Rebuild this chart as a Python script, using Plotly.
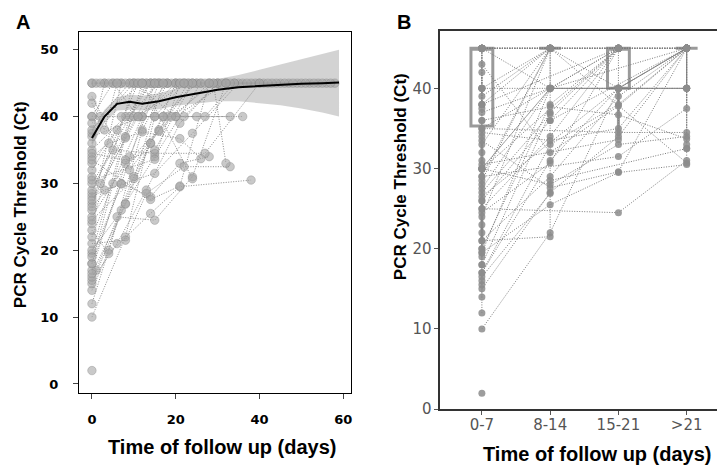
""" Ct follow-up plots: A by day, B by day bins """
import pandas as pd
import plotly.graph_objects as go

# one inner list per patient (day of sample, Ct value)
follow_days = [
    [0], [0, 8, 15, 22], [0, 7, 14, 20], [0, 4, 12, 18], [0, 8, 15, 26],
    [0, 6, 13, 21, 30], [0, 1, 10, 17, 25], [0, 8, 16, 24], [0, 7, 14, 21, 28], [0, 8, 15],
    [0, 9, 14], [0, 6, 15, 24, 32], [0, 8, 13, 22, 33], [0, 5, 12, 20], [0, 4, 14, 21, 38],
    [0, 10], [0, 9, 16], [0, 7], [0, 8, 12], [0, 3, 15, 24, 35],
    [0, 11], [0, 13], [0, 5, 15, 27, 40], [0, 2, 10, 18, 25, 36], [0, 6, 16],
    [0, 14], [0, 4, 12, 21, 26], [0, 8, 15, 22, 30], [0, 2, 9], [0, 12, 20, 27, 34],
    [0, 3], [0, 10, 20, 32], [0, 7, 17, 33], [0, 5, 11, 18], [0, 9, 16, 28],
    [0, 3, 7, 10, 15, 20, 25, 30, 36, 41, 45, 49, 54, 58],
    [0, 5, 9, 14, 19, 24, 28, 34, 39, 44, 47, 52, 56],
    [1, 6, 11, 16, 21, 26, 31, 38, 43, 50, 55],
    [2, 8, 13, 18, 23, 29, 33, 40, 46, 51, 57],
    [4, 12, 17, 22, 27, 32, 37, 42, 48, 53],
    [0, 19, 29, 32], [0, 8, 14, 23], [0, 7, 15], [0, 10, 17], [0, 15, 21],
    [0, 11, 22], [0, 8, 15, 24], [0, 14, 21, 28], [0, 12, 24], [0, 3, 6],
]
follow_ct = [
    [2], [10, 22, 40, 45], [12, 26, 36, 45], [14, 20, 38, 45], [15, 27, 34, 45],
    [15.5, 21, 29, 39, 45], [16, 17, 31, 40, 45], [17, 33, 38, 45], [18, 30, 28, 33, 34], [18, 37, 45],
    [19.5, 40, 45], [20, 25, 24.5, 31, 45], [21, 21.5, 28.5, 32.5, 32.5], [22, 30, 40, 45], [23, 19.5, 25.5, 29.5, 30.5],
    [24, 45], [25, 34, 45], [26, 45], [27, 36.8, 45], [28, 29, 31.5, 37.5, 45],
    [28.5, 45], [29, 45], [30, 35, 34.5, 34.5, 45], [31, 30, 40, 40, 40, 40], [32, 38, 45],
    [33, 45], [34, 36, 37.7, 36.7, 33.7], [35, 40, 40, 40, 45], [36, 40, 45], [37, 40, 40, 40, 45],
    [37.5, 45], [38, 45, 40, 45], [40, 40, 40, 40], [40, 45, 40, 45], [43, 32, 37.8, 45],
    [45] * 14,
    [45] * 13,
    [45] * 11,
    [45] * 11,
    [45] * 10,
    [26.5, 40, 45, 33], [16.5, 26.9, 36, 45], [19, 29.9, 45], [24.5, 30.7, 45], [30.5, 33.6, 45],
    [27.5, 40, 45], [34.5, 33.5, 35, 45], [33.5, 27.6, 29.6, 45], [39, 45, 30.7], [42, 38, 45],
]

# smoothed trend with confidence band (panel A)
smooth_days = [0, 3, 6, 9, 12, 16, 20, 25, 30, 35, 40, 45, 50, 55, 59]
smooth_ct = [36.8, 40.0, 41.9, 42.2, 41.9, 42.3, 42.9, 43.5, 44.0, 44.4, 44.6, 44.8, 44.9, 45.0, 45.1]
smooth_lo = [35.6, 39.0, 40.9, 41.0, 40.9, 41.1, 41.6, 42.0, 42.3, 42.3, 42.0, 41.7, 41.2, 40.6, 40.0]
smooth_hi = [38.0, 41.0, 42.9, 43.3, 43.1, 43.5, 44.2, 45.0, 45.6, 46.2, 47.0, 47.8, 48.5, 49.3, 50.0]

# panel B bins and box statistics
bin_labels = ['0-7', '8-14', '15-21', '>21']
bin_edges = [-1, 7, 14, 21, 1000]
box_q1 = [35.3, 45, 40, 45]
box_median = [45, 45, 45, 45]
box_q3 = [45, 45, 45, 45]
box_lower = [21, 45, 34, 45]
box_upper = [45, 45, 45, 45]

rows = []
for pid, (ds, cs) in enumerate(zip(follow_days, follow_ct)):
    for d, c in zip(ds, cs):
        rows.append((pid, d, c))
df = pd.DataFrame(rows, columns=['pid', 'day', 'ct'])
df['bin'] = pd.cut(df['day'], bins=bin_edges, labels=False)


def _with_gaps(frame, xcol, ycol):
    xs, ys = [], []
    for _, g in frame.groupby('pid'):
        xs += g[xcol].tolist() + [None]
        ys += g[ycol].tolist() + [None]
    return xs, ys


fig = go.Figure()

# --- panel A
fig.add_trace(go.Scatter(x=smooth_days + smooth_days[::-1], y=smooth_hi + smooth_lo[::-1],
                         fill='toself', fillcolor='rgba(200,200,200,0.8)', line=dict(width=0),
                         mode='lines', hoverinfo='skip'))
lx, ly = _with_gaps(df, 'day', 'ct')
fig.add_trace(go.Scatter(x=lx, y=ly, mode='lines',
                         line=dict(color='#8c8c8c', width=1, dash='1px,1.5px')))
fig.add_trace(go.Scatter(x=df['day'], y=df['ct'], mode='markers',
                         marker=dict(size=8.5, color='rgba(165,165,165,0.6)',
                                     line=dict(width=0.6, color='rgba(130,130,130,0.6)'))))
fig.add_trace(go.Scatter(x=smooth_days, y=smooth_ct, mode='lines', line=dict(color='black', width=2)))

# --- panel B
bx, by = _with_gaps(df, 'bin', 'ct')
fig.add_trace(go.Scatter(x=bx, y=by, mode='lines', xaxis='x2', yaxis='y2',
                         line=dict(color='#7a7a7a', width=1, dash='1px,1.5px')))
fig.add_trace(go.Scatter(x=df['bin'], y=df['ct'], mode='markers', xaxis='x2', yaxis='y2',
                         marker=dict(size=7, color='rgba(140,140,140,0.85)')))
fig.add_trace(go.Box(x=[0, 1, 2, 3], q1=box_q1, median=box_median, q3=box_q3,
                     lowerfence=box_lower, upperfence=box_upper, xaxis='x2', yaxis='y2',
                     width=0.32, whiskerwidth=0, boxpoints=False,
                     line=dict(color='#9a9a9a', width=3), fillcolor='rgba(0,0,0,0)'))

tick_a = dict(family='DejaVu Sans', size=13, color='black', weight='bold')
tick_b = dict(family='DejaVu Sans', size=15, color='#555555')
xtitle_font = dict(family='Liberation Sans', size=20, color='black', weight='bold')
ytitle_font = dict(family='Liberation Sans', size=17, color='black', weight='bold')
panel_font = dict(family='Liberation Sans', size=20, color='black', weight='bold')

fig.update_layout(
    width=725, height=468, margin=dict(l=0, r=0, t=0, b=0),
    plot_bgcolor='white', paper_bgcolor='white', showlegend=False,
    xaxis=dict(domain=[0.098, 0.474], range=[-3.1, 61.9], tickvals=[0, 20, 40, 60],
               showline=True, mirror=True, linecolor='black', linewidth=1, showgrid=False,
               zeroline=False, ticks='outside', ticklen=5, tickcolor='#444',
               tickfont=tick_a, ticklabelstandoff=10),
    yaxis=dict(domain=[0.162, 0.947], range=[-1.3, 52.6], tickvals=[0, 10, 20, 30, 40, 50],
               showline=True, mirror=True, linecolor='black', linewidth=1, showgrid=False,
               zeroline=False, ticks='outside', ticklen=5, tickcolor='#444',
               tickfont=tick_a, ticklabelstandoff=12),
    xaxis2=dict(domain=[0.597, 0.994], anchor='y2', range=[-0.61, 3.6], tickvals=[0, 1, 2, 3],
                ticktext=bin_labels, showline=True, mirror=True, linecolor='#333', linewidth=1.5,
                showgrid=False, zeroline=False, ticks='outside', ticklen=4, tickcolor='#555',
                tickfont=tick_b, ticklabelstandoff=-3),
    yaxis2=dict(domain=[0.126, 0.949], anchor='x2', range=[0, 47.1], tickvals=[0, 10, 20, 30, 40],
                showline=True, mirror=True, linecolor='#333', linewidth=1.5, showgrid=False,
                zeroline=False, ticks='outside', ticklen=4, tickcolor='#555', tickfont=tick_b),
)

notes = [
    dict(text='A', x=15 / 725, y=1 - 14 / 468, font=panel_font),
    dict(text='B', x=397 / 725, y=1 - 14 / 468, font=panel_font),
    dict(text='Time of follow up (days)', x=215 / 725, y=1 - 448 / 468, font=xtitle_font),
    dict(text='Time of follow up (days)', x=590 / 725, y=1 - 455 / 468, font=xtitle_font),
    dict(text='PCR Cycle Threshold (Ct)', x=12 / 725, y=1 - 200 / 468, textangle=-90, font=ytitle_font),
    dict(text='PCR Cycle Threshold (Ct)', x=393 / 725, y=1 - 172 / 468, textangle=-90, font=ytitle_font),
]
for n in notes:
    fig.add_annotation(xref='paper', yref='paper', showarrow=False, xanchor='center', yanchor='middle', **n)

fig.write_html("out.html")
